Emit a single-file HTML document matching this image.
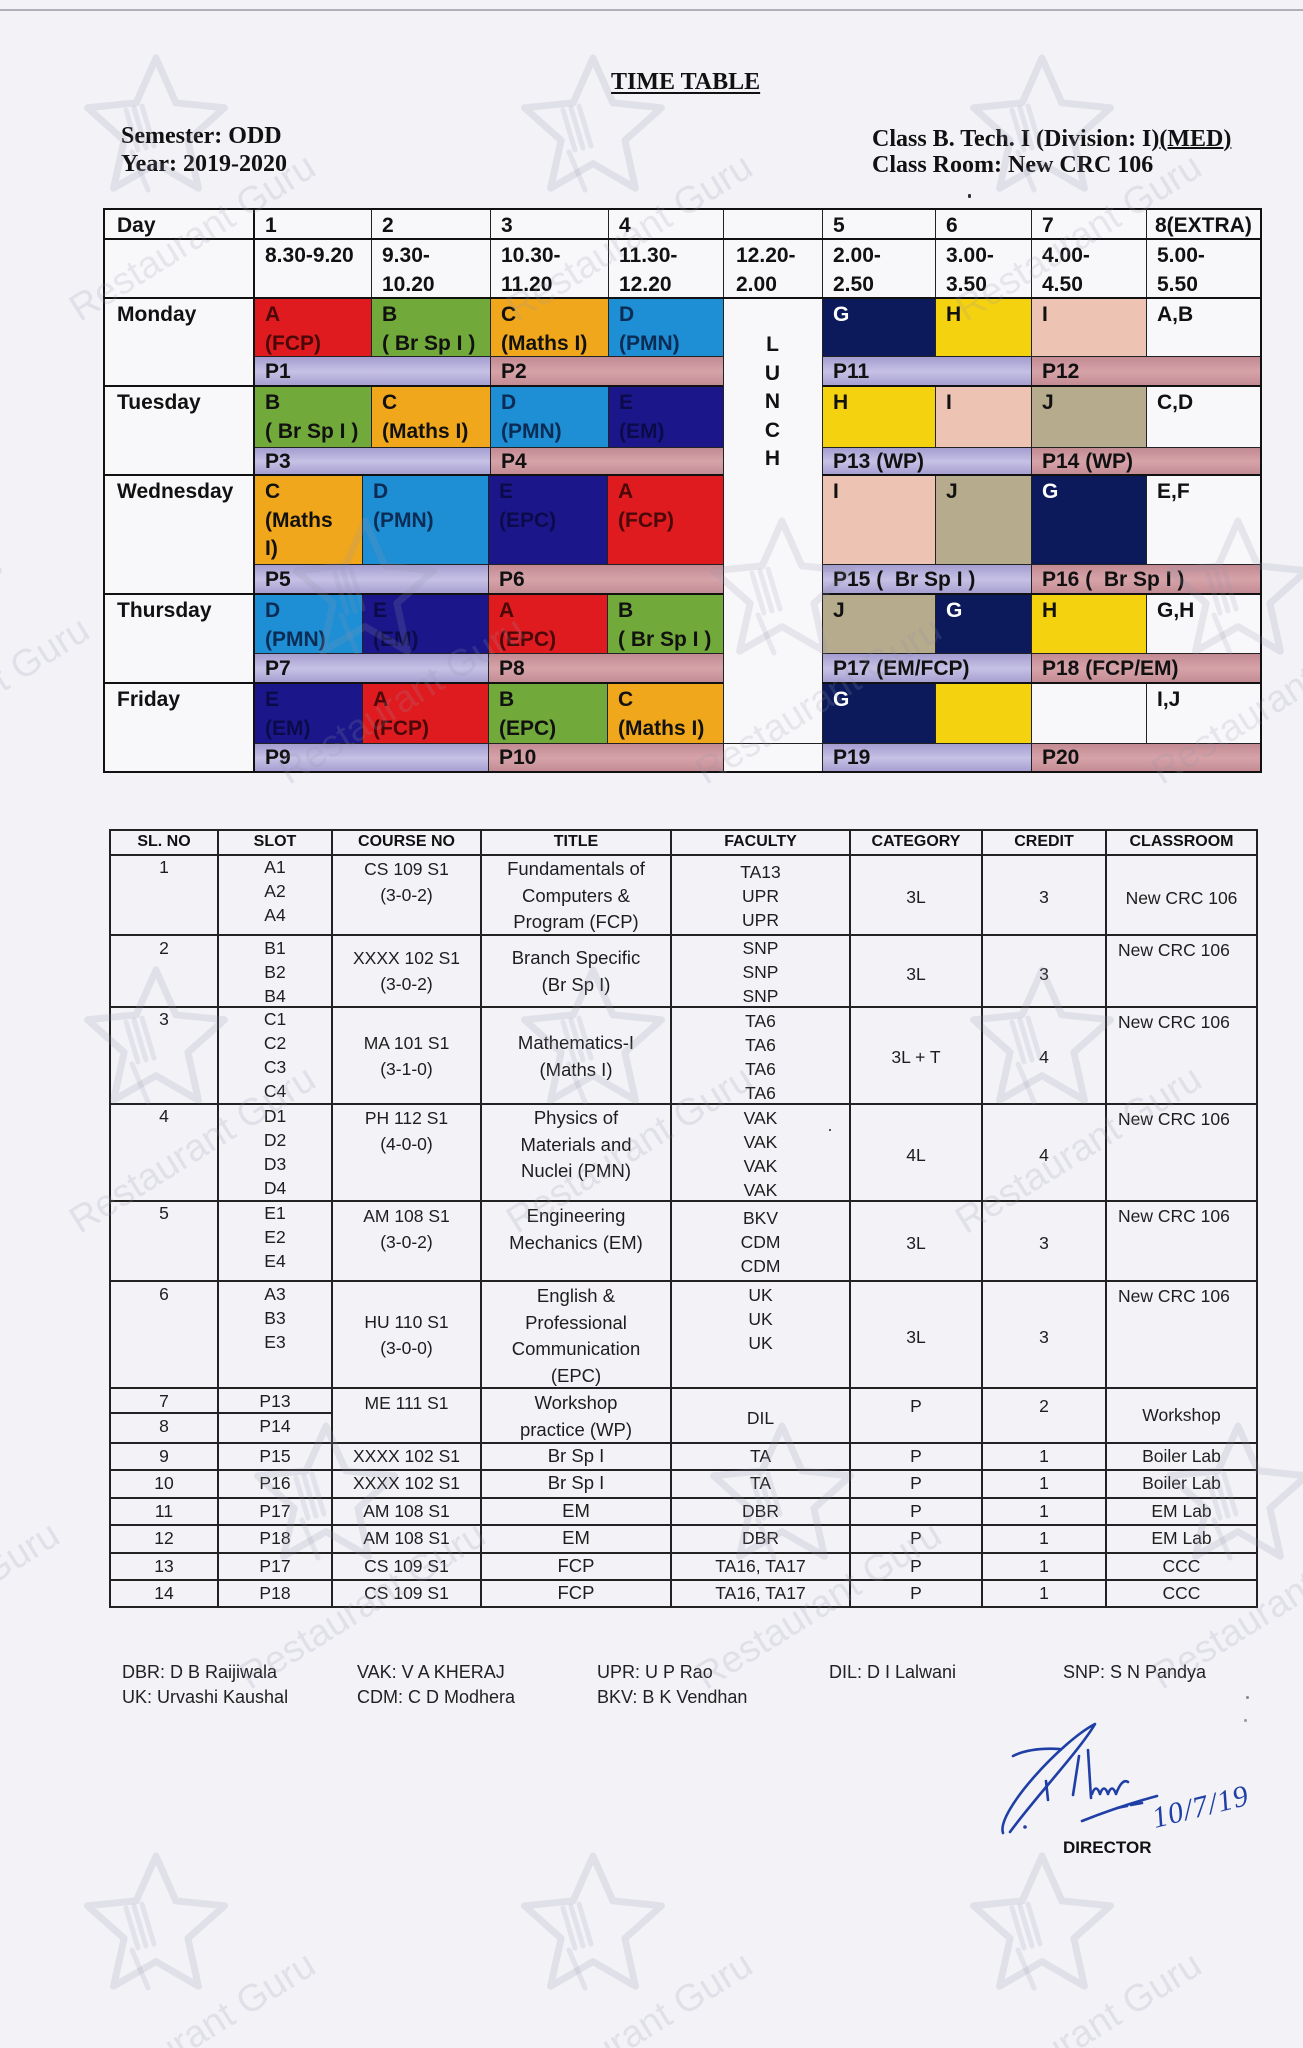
<!DOCTYPE html>
<html>
<head>
<meta charset="utf-8">
<style>
html,body{margin:0;padding:0;}
body{width:1303px;height:2048px;overflow:hidden;background:#f2f2f7;position:relative;font-family:"Liberation Sans",Arial,sans-serif;}
.c{position:absolute;box-sizing:border-box;border:1px solid #222;padding:2px 0 0 10px;font:bold 21px/28.5px "Liberation Sans",Arial,sans-serif;color:#111;white-space:nowrap;overflow:hidden;}
.p{padding-top:0;line-height:29px;}
.r{background:#df1b1f;color:#4a0808;}
.g{background:#71a93b;}
.o{background:#f1a71c;}
.b{background:#1e8fd4;color:#0c2c55;}
.e{background:#1b178b;color:#0b0b4a;}
.n{background:#0c1a5c;color:#fff;}
.y{background:#f5d20f;}
.i{background:#edc3b3;}
.j{background:#b6ab8d;}
.w{background:#f8f8fb;}
.lv{background:linear-gradient(180deg,#a49dd0 0%,#c6c1e5 50%,#a49dd0 100%);}
.rs{background:linear-gradient(180deg,#c28a92 0%,#d6a3a9 50%,#c28a92 100%);}
.h{position:absolute;background:#111;height:2px;}
.v{position:absolute;background:#111;width:2px;}
.h2{position:absolute;background:#222;height:2px;}
.v2{position:absolute;background:#222;width:2px;}
.t{position:absolute;text-align:center;font:17.5px/24px "Liberation Sans",Arial,sans-serif;color:#1e1e1e;white-space:nowrap;}
.tt{font-size:18.5px;}
.th{position:absolute;text-align:center;font:bold 16px/24px "Liberation Sans",Arial,sans-serif;color:#111;white-space:nowrap;top:830px;}
.tm{position:absolute;font:bold 24px/24px "Liberation Serif","Times New Roman",serif;color:#111;white-space:nowrap;}
.f{position:absolute;font:18px/25px "Liberation Sans",Arial,sans-serif;color:#222;white-space:nowrap;top:1660px;}
</style>
</head>
<body>

<div style="position:absolute;left:0;top:9px;width:1303px;height:2px;background:#b0b0b8;"></div>

<div class="tm" style="left:611px;top:70px;text-decoration:underline;text-decoration-thickness:2px;text-underline-offset:3px;">TIME TABLE</div>
<div class="tm" style="left:121px;top:124px;">Semester: ODD</div>
<div class="tm" style="left:121px;top:152px;">Year: 2019-2020</div>
<div class="tm" style="left:872px;top:127px;">Class B. Tech. I (Division: I)<span style="text-decoration:underline;text-decoration-thickness:2px;">(MED)</span></div>
<div class="tm" style="left:872px;top:153px;">Class Room: New CRC 106</div>
<div style="position:absolute;left:968px;top:194px;width:3px;height:4px;background:#333;border-radius:1px;"></div>

<!-- header row 1 -->
<div class="c w" style="left:104px;top:209px;width:151px;height:31px;padding-left:12px;line-height:27px;">Day</div>
<div class="c w" style="left:254px;top:209px;width:118px;height:31px;line-height:27px;">1</div>
<div class="c w" style="left:371px;top:209px;width:120px;height:31px;line-height:27px;">2</div>
<div class="c w" style="left:490px;top:209px;width:119px;height:31px;line-height:27px;">3</div>
<div class="c w" style="left:608px;top:209px;width:116px;height:31px;line-height:27px;">4</div>
<div class="c w" style="left:723px;top:209px;width:100px;height:31px;line-height:27px;"></div>
<div class="c w" style="left:822px;top:209px;width:114px;height:31px;line-height:27px;">5</div>
<div class="c w" style="left:935px;top:209px;width:97px;height:31px;line-height:27px;">6</div>
<div class="c w" style="left:1031px;top:209px;width:116px;height:31px;line-height:27px;">7</div>
<div class="c w" style="left:1146px;top:209px;width:116px;height:31px;line-height:27px;padding-left:8px;">8(EXTRA)</div>
<!-- header row 2 -->
<div class="c w" style="left:104px;top:239px;width:151px;height:60px;"></div>
<div class="c w" style="left:254px;top:239px;width:118px;height:60px;">8.30-9.20</div>
<div class="c w" style="left:371px;top:239px;width:120px;height:60px;">9.30-<br>10.20</div>
<div class="c w" style="left:490px;top:239px;width:119px;height:60px;">10.30-<br>11.20</div>
<div class="c w" style="left:608px;top:239px;width:116px;height:60px;">11.30-<br>12.20</div>
<div class="c w" style="left:723px;top:239px;width:100px;height:60px;padding-left:12px;">12.20-<br>2.00</div>
<div class="c w" style="left:822px;top:239px;width:114px;height:60px;">2.00-<br>2.50</div>
<div class="c w" style="left:935px;top:239px;width:97px;height:60px;">3.00-<br>3.50</div>
<div class="c w" style="left:1031px;top:239px;width:116px;height:60px;">4.00-<br>4.50</div>
<div class="c w" style="left:1146px;top:239px;width:116px;height:60px;">5.00-<br>5.50</div>

<!-- Day cells -->
<div class="c w" style="left:104px;top:298px;width:151px;height:89px;padding-left:12px;">Monday</div>
<div class="c w" style="left:104px;top:386px;width:151px;height:90px;padding-left:12px;">Tuesday</div>
<div class="c w" style="left:104px;top:475px;width:151px;height:120px;padding-left:12px;">Wednesday</div>
<div class="c w" style="left:104px;top:594px;width:151px;height:90px;padding-left:12px;">Thursday</div>
<div class="c w" style="left:104px;top:683px;width:151px;height:90px;padding-left:12px;">Friday</div>

<!-- Lunch -->
<div class="c w" style="left:723px;top:298px;width:100px;height:446px;"></div>
<div class="c w" style="left:723px;top:743px;width:100px;height:30px;"></div>
<div style="position:absolute;left:723px;top:331px;width:99px;text-align:center;font:bold 21px/28.5px 'Liberation Sans',Arial,sans-serif;color:#111;">L<br>U<br>N<br>C<br>H</div>

<!-- Monday -->
<div class="c r" style="left:254px;top:298px;width:118px;height:59px;">A<br>(FCP)</div>
<div class="c g" style="left:371px;top:298px;width:120px;height:59px;">B<br>( Br Sp I )</div>
<div class="c o" style="left:490px;top:298px;width:119px;height:59px;">C<br>(Maths I)</div>
<div class="c b" style="left:608px;top:298px;width:116px;height:59px;">D<br>(PMN)</div>
<div class="c n" style="left:822px;top:298px;width:114px;height:59px;">G</div>
<div class="c y" style="left:935px;top:298px;width:97px;height:59px;">H</div>
<div class="c i" style="left:1031px;top:298px;width:116px;height:59px;">I</div>
<div class="c w" style="left:1146px;top:298px;width:116px;height:59px;">A,B</div>
<div class="c p lv" style="left:254px;top:356px;width:237px;height:31px;">P1</div>
<div class="c p rs" style="left:490px;top:356px;width:234px;height:31px;">P2</div>
<div class="c p lv" style="left:822px;top:356px;width:210px;height:31px;">P11</div>
<div class="c p rs" style="left:1031px;top:356px;width:231px;height:31px;">P12</div>

<!-- Tuesday -->
<div class="c g" style="left:254px;top:386px;width:118px;height:62px;">B<br>( Br Sp I )</div>
<div class="c o" style="left:371px;top:386px;width:120px;height:62px;">C<br>(Maths I)</div>
<div class="c b" style="left:490px;top:386px;width:119px;height:62px;">D<br>(PMN)</div>
<div class="c e" style="left:608px;top:386px;width:116px;height:62px;">E<br>(EM)</div>
<div class="c y" style="left:822px;top:386px;width:114px;height:62px;">H</div>
<div class="c i" style="left:935px;top:386px;width:97px;height:62px;">I</div>
<div class="c j" style="left:1031px;top:386px;width:116px;height:62px;">J</div>
<div class="c w" style="left:1146px;top:386px;width:116px;height:62px;">C,D</div>
<div class="c p lv" style="left:254px;top:447px;width:237px;height:29px;line-height:27px;">P3</div>
<div class="c p rs" style="left:490px;top:447px;width:234px;height:29px;line-height:27px;">P4</div>
<div class="c p lv" style="left:822px;top:447px;width:210px;height:29px;line-height:27px;">P13 (WP)</div>
<div class="c p rs" style="left:1031px;top:447px;width:231px;height:29px;line-height:27px;">P14 (WP)</div>

<!-- Wednesday -->
<div class="c o" style="left:254px;top:475px;width:109px;height:90px;">C<br>(Maths<br>I)</div>
<div class="c b" style="left:362px;top:475px;width:127px;height:90px;">D<br>(PMN)</div>
<div class="c e" style="left:488px;top:475px;width:120px;height:90px;">E<br>(EPC)</div>
<div class="c r" style="left:607px;top:475px;width:117px;height:90px;">A<br>(FCP)</div>
<div class="c i" style="left:822px;top:475px;width:114px;height:90px;">I</div>
<div class="c j" style="left:935px;top:475px;width:97px;height:90px;">J</div>
<div class="c n" style="left:1031px;top:475px;width:116px;height:90px;">G</div>
<div class="c w" style="left:1146px;top:475px;width:116px;height:90px;">E,F</div>
<div class="c p lv" style="left:254px;top:564px;width:235px;height:31px;">P5</div>
<div class="c p rs" style="left:488px;top:564px;width:236px;height:31px;">P6</div>
<div class="c p lv" style="left:822px;top:564px;width:210px;height:31px;">P15 (&nbsp; Br Sp I )</div>
<div class="c p rs" style="left:1031px;top:564px;width:231px;height:31px;">P16 (&nbsp; Br Sp I )</div>

<!-- Thursday -->
<div class="c b" style="left:254px;top:594px;width:109px;height:60px;">D<br>(PMN)</div>
<div class="c e" style="left:362px;top:594px;width:127px;height:60px;">E<br>(EM)</div>
<div class="c r" style="left:488px;top:594px;width:120px;height:60px;">A<br>(EPC)</div>
<div class="c g" style="left:607px;top:594px;width:117px;height:60px;">B<br>( Br Sp I )</div>
<div class="c j" style="left:822px;top:594px;width:114px;height:60px;">J</div>
<div class="c n" style="left:935px;top:594px;width:97px;height:60px;">G</div>
<div class="c y" style="left:1031px;top:594px;width:116px;height:60px;">H</div>
<div class="c w" style="left:1146px;top:594px;width:116px;height:60px;">G,H</div>
<div class="c p lv" style="left:254px;top:653px;width:235px;height:31px;">P7</div>
<div class="c p rs" style="left:488px;top:653px;width:236px;height:31px;">P8</div>
<div class="c p lv" style="left:822px;top:653px;width:210px;height:31px;">P17 (EM/FCP)</div>
<div class="c p rs" style="left:1031px;top:653px;width:231px;height:31px;">P18 (FCP/EM)</div>

<!-- Friday -->
<div class="c e" style="left:254px;top:683px;width:109px;height:61px;">E<br>(EM)</div>
<div class="c r" style="left:362px;top:683px;width:127px;height:61px;">A<br>(FCP)</div>
<div class="c g" style="left:488px;top:683px;width:120px;height:61px;">B<br>(EPC)</div>
<div class="c o" style="left:607px;top:683px;width:117px;height:61px;">C<br>(Maths I)</div>
<div class="c n" style="left:822px;top:683px;width:114px;height:61px;">G</div>
<div class="c y" style="left:935px;top:683px;width:97px;height:61px;"></div>
<div class="c w" style="left:1031px;top:683px;width:116px;height:61px;"></div>
<div class="c w" style="left:1146px;top:683px;width:116px;height:61px;">I,J</div>
<div class="c p lv" style="left:254px;top:743px;width:235px;height:30px;line-height:28px;">P9</div>
<div class="c p rs" style="left:488px;top:743px;width:236px;height:30px;line-height:28px;">P10</div>
<div class="c p lv" style="left:822px;top:743px;width:210px;height:30px;line-height:28px;">P19</div>
<div class="c p rs" style="left:1031px;top:743px;width:231px;height:30px;line-height:28px;">P20</div>

<!-- thick lines top table -->
<div class="h" style="left:103px;top:208px;width:1159px;"></div>
<div class="h" style="left:103px;top:238px;width:1159px;"></div>
<div class="h" style="left:103px;top:297px;width:1159px;"></div>
<div class="h" style="left:103px;top:771px;width:1159px;"></div>
<div class="h" style="left:103px;top:385px;width:620px;"></div>
<div class="h" style="left:822px;top:385px;width:440px;"></div>
<div class="h" style="left:103px;top:474px;width:620px;"></div>
<div class="h" style="left:822px;top:474px;width:440px;"></div>
<div class="h" style="left:103px;top:593px;width:620px;"></div>
<div class="h" style="left:822px;top:593px;width:440px;"></div>
<div class="h" style="left:103px;top:682px;width:620px;"></div>
<div class="h" style="left:822px;top:682px;width:440px;"></div>
<div class="v" style="left:103px;top:208px;height:565px;"></div>
<div class="v" style="left:253px;top:208px;height:565px;"></div>
<div class="v" style="left:1260px;top:208px;height:565px;"></div>

<!-- ============ SECOND TABLE ============ -->
<div class="h2" style="left:109px;top:829px;width:1149px;"></div>
<div class="h2" style="left:109px;top:854px;width:1149px;"></div>
<div class="h2" style="left:109px;top:934px;width:1149px;"></div>
<div class="h2" style="left:109px;top:1006px;width:1149px;"></div>
<div class="h2" style="left:109px;top:1103px;width:1149px;"></div>
<div class="h2" style="left:109px;top:1200px;width:1149px;"></div>
<div class="h2" style="left:109px;top:1280px;width:1149px;"></div>
<div class="h2" style="left:109px;top:1387px;width:1149px;"></div>
<div class="h2" style="left:109px;top:1412px;width:223px;"></div>
<div class="h2" style="left:109px;top:1442px;width:1149px;"></div>
<div class="h2" style="left:109px;top:1469px;width:1149px;"></div>
<div class="h2" style="left:109px;top:1497px;width:1149px;"></div>
<div class="h2" style="left:109px;top:1524px;width:1149px;"></div>
<div class="h2" style="left:109px;top:1552px;width:1149px;"></div>
<div class="h2" style="left:109px;top:1579px;width:1149px;"></div>
<div class="h2" style="left:109px;top:1606px;width:1149px;"></div>
<div class="v2" style="left:109px;top:829px;height:779px;"></div>
<div class="v2" style="left:217px;top:829px;height:779px;"></div>
<div class="v2" style="left:331px;top:829px;height:779px;"></div>
<div class="v2" style="left:480px;top:829px;height:779px;"></div>
<div class="v2" style="left:670px;top:829px;height:779px;"></div>
<div class="v2" style="left:849px;top:829px;height:779px;"></div>
<div class="v2" style="left:981px;top:829px;height:779px;"></div>
<div class="v2" style="left:1105px;top:829px;height:779px;"></div>
<div class="v2" style="left:1256px;top:829px;height:779px;"></div>

<div class="th" style="left:110px;width:108px;">SL. NO</div>
<div class="th" style="left:218px;width:114px;">SLOT</div>
<div class="th" style="left:332px;width:149px;">COURSE NO</div>
<div class="th" style="left:481px;width:190px;">TITLE</div>
<div class="th" style="left:671px;width:179px;">FACULTY</div>
<div class="th" style="left:850px;width:132px;">CATEGORY</div>
<div class="th" style="left:982px;width:124px;">CREDIT</div>
<div class="th" style="left:1106px;width:151px;">CLASSROOM</div>

<!-- SL NO -->
<div class="t" style="left:110px;width:108px;top:855px;">1</div>
<div class="t" style="left:110px;width:108px;top:936px;">2</div>
<div class="t" style="left:110px;width:108px;top:1007px;">3</div>
<div class="t" style="left:110px;width:108px;top:1104px;">4</div>
<div class="t" style="left:110px;width:108px;top:1201px;">5</div>
<div class="t" style="left:110px;width:108px;top:1282px;">6</div>
<div class="t" style="left:110px;width:108px;top:1389px;">7</div>
<div class="t" style="left:110px;width:108px;top:1414px;">8</div>
<div class="t" style="left:110px;width:108px;top:1444px;">9</div>
<div class="t" style="left:110px;width:108px;top:1471px;">10</div>
<div class="t" style="left:110px;width:108px;top:1499px;">11</div>
<div class="t" style="left:110px;width:108px;top:1526px;">12</div>
<div class="t" style="left:110px;width:108px;top:1554px;">13</div>
<div class="t" style="left:110px;width:108px;top:1581px;">14</div>

<!-- SLOT -->
<div class="t" style="left:218px;width:114px;top:855px;">A1<br>A2<br>A4</div>
<div class="t" style="left:218px;width:114px;top:936px;">B1<br>B2<br>B4</div>
<div class="t" style="left:218px;width:114px;top:1007px;">C1<br>C2<br>C3<br>C4</div>
<div class="t" style="left:218px;width:114px;top:1104px;">D1<br>D2<br>D3<br>D4</div>
<div class="t" style="left:218px;width:114px;top:1201px;">E1<br>E2<br>E4</div>
<div class="t" style="left:218px;width:114px;top:1282px;">A3<br>B3<br>E3</div>
<div class="t" style="left:218px;width:114px;top:1389px;">P13</div>
<div class="t" style="left:218px;width:114px;top:1414px;">P14</div>
<div class="t" style="left:218px;width:114px;top:1444px;">P15</div>
<div class="t" style="left:218px;width:114px;top:1471px;">P16</div>
<div class="t" style="left:218px;width:114px;top:1499px;">P17</div>
<div class="t" style="left:218px;width:114px;top:1526px;">P18</div>
<div class="t" style="left:218px;width:114px;top:1554px;">P17</div>
<div class="t" style="left:218px;width:114px;top:1581px;">P18</div>

<!-- COURSE NO -->
<div class="t" style="left:332px;width:149px;top:856px;line-height:26px;">CS 109 S1<br>(3-0-2)</div>
<div class="t" style="left:332px;width:149px;top:945px;line-height:26px;">XXXX 102 S1<br>(3-0-2)</div>
<div class="t" style="left:332px;width:149px;top:1030px;line-height:26px;">MA 101 S1<br>(3-1-0)</div>
<div class="t" style="left:332px;width:149px;top:1105px;line-height:26px;">PH 112 S1<br>(4-0-0)</div>
<div class="t" style="left:332px;width:149px;top:1203px;line-height:26px;">AM 108 S1<br>(3-0-2)</div>
<div class="t" style="left:332px;width:149px;top:1309px;line-height:26px;">HU 110 S1<br>(3-0-0)</div>
<div class="t" style="left:332px;width:149px;top:1390px;line-height:26px;">ME 111 S1</div>
<div class="t" style="left:332px;width:149px;top:1443px;line-height:26px;">XXXX 102 S1</div>
<div class="t" style="left:332px;width:149px;top:1470px;line-height:26px;">XXXX 102 S1</div>
<div class="t" style="left:332px;width:149px;top:1498px;line-height:26px;">AM 108 S1</div>
<div class="t" style="left:332px;width:149px;top:1525px;line-height:26px;">AM 108 S1</div>
<div class="t" style="left:332px;width:149px;top:1553px;line-height:26px;">CS 109 S1</div>
<div class="t" style="left:332px;width:149px;top:1580px;line-height:26px;">CS 109 S1</div>

<!-- TITLE -->
<div class="t tt" style="left:481px;width:190px;top:856px;line-height:26.5px;">Fundamentals of<br>Computers &amp;<br>Program (FCP)</div>
<div class="t tt" style="left:481px;width:190px;top:945px;line-height:26.5px;">Branch Specific<br>(Br Sp I)</div>
<div class="t tt" style="left:481px;width:190px;top:1030px;line-height:26.5px;">Mathematics-I<br>(Maths I)</div>
<div class="t tt" style="left:481px;width:190px;top:1105px;line-height:26.5px;">Physics of<br>Materials and<br>Nuclei (PMN)</div>
<div class="t tt" style="left:481px;width:190px;top:1203px;line-height:26.5px;">Engineering<br>Mechanics (EM)</div>
<div class="t tt" style="left:481px;width:190px;top:1283px;line-height:26.5px;">English &amp;<br>Professional<br>Communication<br>(EPC)</div>
<div class="t tt" style="left:481px;width:190px;top:1390px;line-height:26.5px;">Workshop<br>practice (WP)</div>
<div class="t tt" style="left:481px;width:190px;top:1443px;line-height:26.5px;">Br Sp I</div>
<div class="t tt" style="left:481px;width:190px;top:1470px;line-height:26.5px;">Br Sp I</div>
<div class="t tt" style="left:481px;width:190px;top:1498px;line-height:26.5px;">EM</div>
<div class="t tt" style="left:481px;width:190px;top:1525px;line-height:26.5px;">EM</div>
<div class="t tt" style="left:481px;width:190px;top:1553px;line-height:26.5px;">FCP</div>
<div class="t tt" style="left:481px;width:190px;top:1580px;line-height:26.5px;">FCP</div>

<!-- FACULTY -->
<div class="t" style="left:671px;width:179px;top:860px;">TA13<br>UPR<br>UPR</div>
<div class="t" style="left:671px;width:179px;top:936px;">SNP<br>SNP<br>SNP</div>
<div class="t" style="left:671px;width:179px;top:1009px;">TA6<br>TA6<br>TA6<br>TA6</div>
<div class="t" style="left:671px;width:179px;top:1106px;">VAK<br>VAK<br>VAK<br>VAK</div>
<div class="t" style="left:671px;width:179px;top:1206px;">BKV<br>CDM<br>CDM</div>
<div class="t" style="left:671px;width:179px;top:1283px;">UK<br>UK<br>UK</div>
<div class="t" style="left:671px;width:179px;top:1406px;">DIL</div>
<div class="t" style="left:671px;width:179px;top:1444px;">TA</div>
<div class="t" style="left:671px;width:179px;top:1471px;">TA</div>
<div class="t" style="left:671px;width:179px;top:1499px;">DBR</div>
<div class="t" style="left:671px;width:179px;top:1526px;">DBR</div>
<div class="t" style="left:671px;width:179px;top:1554px;">TA16, TA17</div>
<div class="t" style="left:671px;width:179px;top:1581px;">TA16, TA17</div>
<div style="position:absolute;left:829px;top:1129px;width:2px;height:2px;background:#555;"></div>

<!-- CATEGORY -->
<div class="t" style="left:850px;width:132px;top:885px;">3L</div>
<div class="t" style="left:850px;width:132px;top:962px;">3L</div>
<div class="t" style="left:850px;width:132px;top:1045px;">3L + T</div>
<div class="t" style="left:850px;width:132px;top:1143px;">4L</div>
<div class="t" style="left:850px;width:132px;top:1231px;">3L</div>
<div class="t" style="left:850px;width:132px;top:1325px;">3L</div>
<div class="t" style="left:850px;width:132px;top:1394px;">P</div>
<div class="t" style="left:850px;width:132px;top:1444px;">P</div>
<div class="t" style="left:850px;width:132px;top:1471px;">P</div>
<div class="t" style="left:850px;width:132px;top:1499px;">P</div>
<div class="t" style="left:850px;width:132px;top:1526px;">P</div>
<div class="t" style="left:850px;width:132px;top:1554px;">P</div>
<div class="t" style="left:850px;width:132px;top:1581px;">P</div>

<!-- CREDIT -->
<div class="t" style="left:982px;width:124px;top:885px;">3</div>
<div class="t" style="left:982px;width:124px;top:962px;">3</div>
<div class="t" style="left:982px;width:124px;top:1045px;">4</div>
<div class="t" style="left:982px;width:124px;top:1143px;">4</div>
<div class="t" style="left:982px;width:124px;top:1231px;">3</div>
<div class="t" style="left:982px;width:124px;top:1325px;">3</div>
<div class="t" style="left:982px;width:124px;top:1394px;">2</div>
<div class="t" style="left:982px;width:124px;top:1444px;">1</div>
<div class="t" style="left:982px;width:124px;top:1471px;">1</div>
<div class="t" style="left:982px;width:124px;top:1499px;">1</div>
<div class="t" style="left:982px;width:124px;top:1526px;">1</div>
<div class="t" style="left:982px;width:124px;top:1554px;">1</div>
<div class="t" style="left:982px;width:124px;top:1581px;">1</div>

<!-- CLASSROOM -->
<div class="t" style="left:1106px;width:151px;top:886px;">New CRC 106</div>
<div class="t" style="left:1118px;top:938px;text-align:left;">New CRC 106</div>
<div class="t" style="left:1118px;top:1010px;text-align:left;">New CRC 106</div>
<div class="t" style="left:1118px;top:1107px;text-align:left;">New CRC 106</div>
<div class="t" style="left:1118px;top:1204px;text-align:left;">New CRC 106</div>
<div class="t" style="left:1118px;top:1284px;text-align:left;">New CRC 106</div>
<div class="t" style="left:1106px;width:151px;top:1403px;">Workshop</div>
<div class="t" style="left:1106px;width:151px;top:1444px;">Boiler Lab</div>
<div class="t" style="left:1106px;width:151px;top:1471px;">Boiler Lab</div>
<div class="t" style="left:1106px;width:151px;top:1499px;">EM Lab</div>
<div class="t" style="left:1106px;width:151px;top:1526px;">EM Lab</div>
<div class="t" style="left:1106px;width:151px;top:1554px;">CCC</div>
<div class="t" style="left:1106px;width:151px;top:1581px;">CCC</div>

<!-- Footer -->
<div class="f" style="left:122px;">DBR: D B Raijiwala<br>UK: Urvashi Kaushal</div>
<div class="f" style="left:357px;">VAK: V A KHERAJ<br>CDM: C D Modhera</div>
<div class="f" style="left:597px;">UPR: U P Rao<br>BKV: B K Vendhan</div>
<div class="f" style="left:829px;">DIL: D I Lalwani</div>
<div class="f" style="left:1063px;">SNP: S N Pandya</div>
<div style="position:absolute;left:1063px;top:1838px;font:bold 17px/20px 'Liberation Sans',Arial,sans-serif;color:#111;">DIRECTOR</div>
<div style="position:absolute;left:1246px;top:1696px;width:3px;height:3px;background:#888;border-radius:2px;"></div>
<div style="position:absolute;left:1244px;top:1719px;width:3px;height:3px;background:#999;border-radius:2px;"></div>

<svg style="position:absolute;left:0;top:0;" width="1303" height="2048" viewBox="0 0 1303 2048" xmlns="http://www.w3.org/2000/svg">
  <defs>
    <g id="wm">
      <polygon points="0,-72 19.8,-27.2 68.5,-22.2 31.9,10.4 42.4,58.2 0,33.6 -42.4,58.2 -31.9,10.4 -68.5,-22.2 -19.8,-27.2" fill="none" stroke="rgba(150,150,172,0.19)" stroke-width="7" stroke-linejoin="round"/>
      <path d="M-30,-20 L-18,20 M-22,-22 L-10,18 M-14,-24 L-2,16 M-24,22 L-8,60" fill="none" stroke="rgba(150,150,172,0.17)" stroke-width="5" stroke-linecap="round"/>
      <text x="43" y="118" transform="rotate(-32 43 118)" text-anchor="middle" font-family="Liberation Sans, Arial, sans-serif" font-size="38" fill="rgba(150,150,172,0.19)">Restaurant Guru</text>
    </g>
  </defs>
  <use href="#wm" x="156" y="130"/>
  <use href="#wm" x="593" y="130"/>
  <use href="#wm" x="1042" y="130"/>
  <use href="#wm" x="365" y="593"/>
  <use href="#wm" x="782" y="593"/>
  <use href="#wm" x="1238" y="593"/>
  <use href="#wm" x="-70" y="593"/>
  <use href="#wm" x="156" y="1042"/>
  <use href="#wm" x="593" y="1042"/>
  <use href="#wm" x="1042" y="1042"/>
  <use href="#wm" x="326" y="1498"/>
  <use href="#wm" x="782" y="1498"/>
  <use href="#wm" x="1238" y="1498"/>
  <use href="#wm" x="-100" y="1498"/>
  <use href="#wm" x="156" y="1928"/>
  <use href="#wm" x="593" y="1928"/>
  <use href="#wm" x="1042" y="1928"/>

  <g fill="none" stroke="#1f3fa6" stroke-width="2.6" stroke-linecap="round" stroke-linejoin="round">
    <path d="M1003,1833 C996,1812 1062,1741 1095,1724 C1080,1750 1033,1800 1010,1832"/>
    <path d="M1013,1756 C1025,1750 1042,1748 1060,1749"/>
    <path d="M1088,1750 L1091,1798"/>
    <path d="M1079,1756 L1073,1795"/>
    <path d="M1046,1781 L1048,1800"/>
    <path d="M1092,1794 q4,-11 8,0 q4,-11 8,0 q4,-11 8,0 q6,-16 12,-12"/>
    <path d="M1082,1821 Q1120,1806 1157,1796"/>
    <path d="M1117,1808 L1127,1806 M1131,1805 L1142,1803"/>
  </g>
  <circle cx="1025" cy="1827" r="1.8" fill="#1f3fa6"/>
  <text x="1155" y="1828" transform="rotate(-14 1155 1828)" font-family="Liberation Serif, serif" font-style="italic" font-size="30" fill="#1f3fa6" letter-spacing="1">10/7/19</text>
</svg>

</body>
</html>
